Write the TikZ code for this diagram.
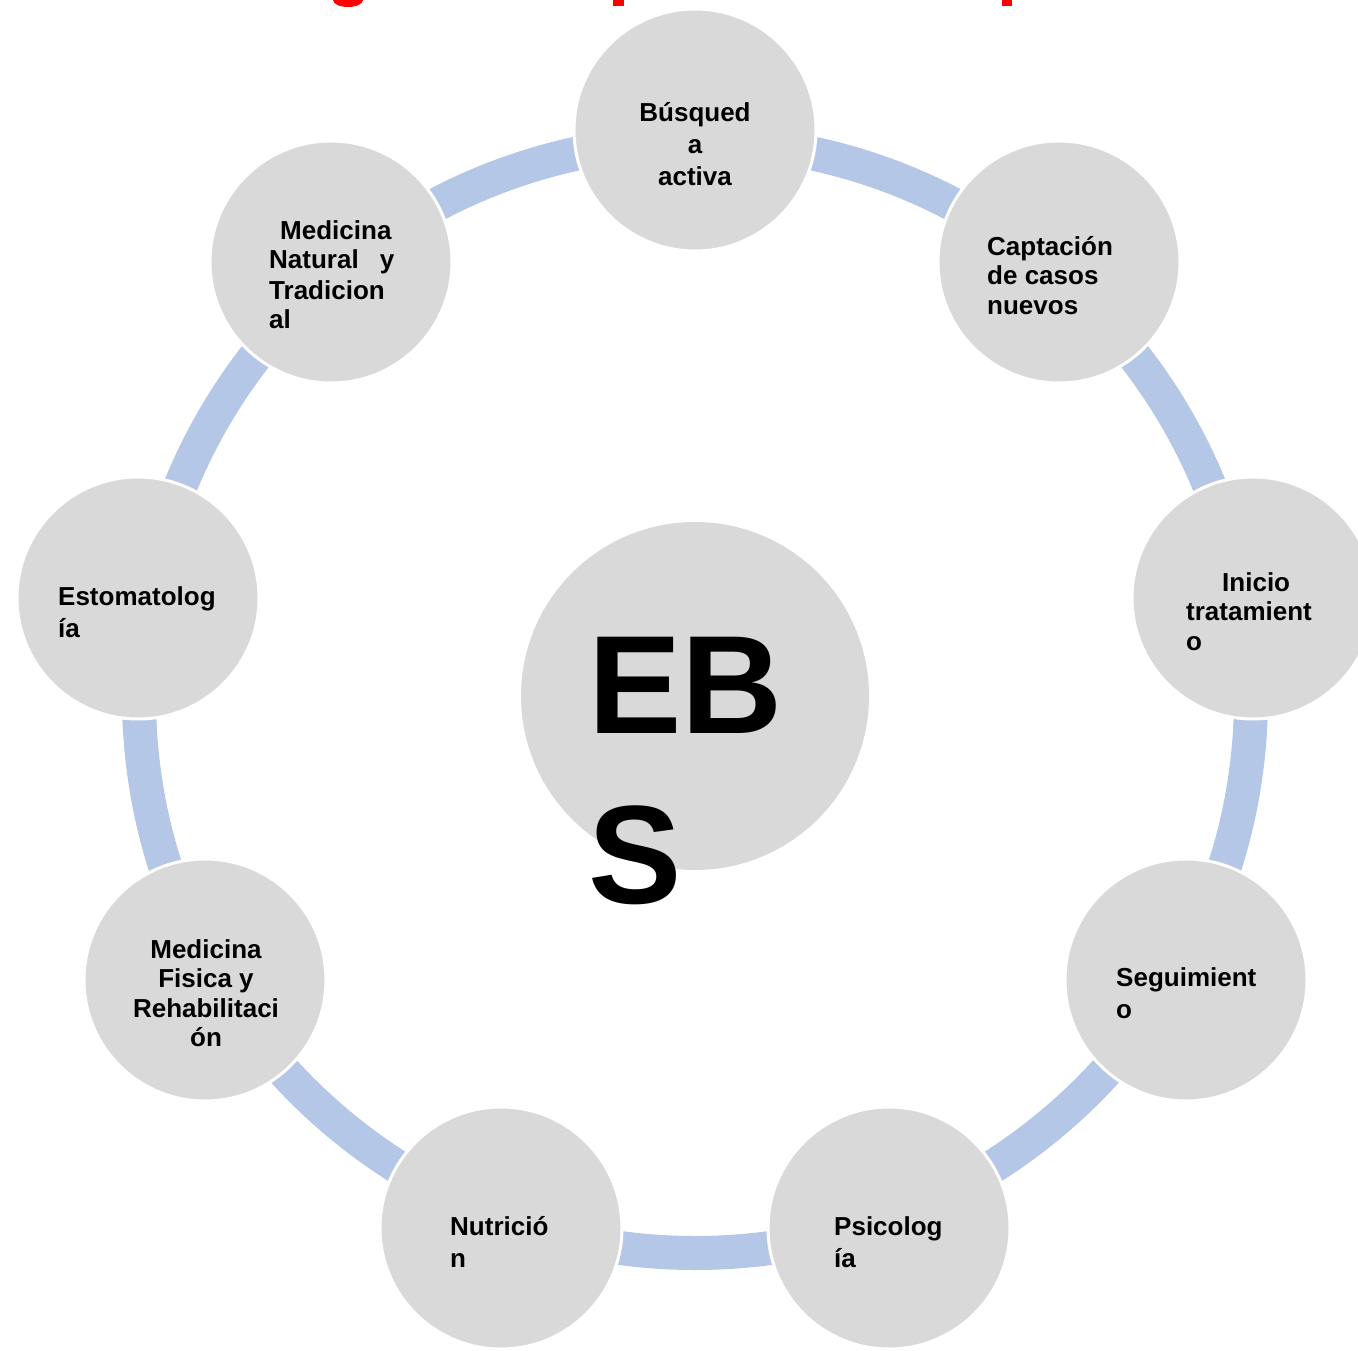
\documentclass[tikz,border=0pt]{standalone}
\usepackage{fontspec}
\setmainfont{Liberation Sans}
\definecolor{ringblue}{HTML}{B4C7E7}
\definecolor{bubble}{HTML}{D9D9D9}
\definecolor{titlered}{HTML}{FF0000}
\tikzset{
  bub/.style={circle, fill=bubble, draw=white, line width=3pt, minimum size=242pt, inner sep=0pt},
  lbl/.style={inner sep=0pt, font=\fontsize{26}{30}\selectfont\bfseries, anchor=base west},
  lblc/.style={lbl, anchor=base},
}
\begin{document}
\begin{tikzpicture}[x=1pt,y=-1pt]
\useasboundingbox (0,0) rectangle (1358,1351);
\clip (0,0) rectangle (1358,1351);
% title fragments (cut off at top)
\fill[titlered] (333,0) arc[start angle=180,end angle=0,x radius=15,y radius=7] -- cycle;
\fill[titlered] (613,0) rectangle (624,6);
\fill[titlered] (1002,0) rectangle (1012,6);
% ring
\coordinate (rc) at (695,697);
\draw[ringblue, line width=34pt] (rc) circle[radius=556];
% bubbles
\node[bub] (n1) at (695,130) {};
\node[bub] (n2) at (1059,262) {};
\node[bub] (n3) at (1253,598) {};
\node[bub] (n4) at (1186,980) {};
\node[bub] (n5) at (889,1228) {};
\node[bub] (n6) at (501,1228) {};
\node[bub] (n7) at (205,980) {};
\node[bub] (n8) at (138,598) {};
\node[bub] (n9) at (331,262) {};
\node[circle, fill=bubble, minimum size=348pt, inner sep=0pt] (ebs) at (695,696) {};
% labels
\node[lblc] (t1a) at (695,122) {Búsqued};
\node[lblc] (t1b) at (695,154) {a};
\node[lblc] (t1c) at (695,186) {activa};
\node[lbl] (t2a) at (987,255) {Captación};
\node[lbl] (t2b) at (987,284) {de casos};
\node[lbl] (t2c) at (987,314) {nuevos};
\node[lbl] (t3a) at (1222,591) {Inicio};
\node[lbl] (t3b) at (1186,620) {tratamient};
\node[lbl] (t3c) at (1186,650) {o};
\node[lbl] (t4a) at (1116,986) {Seguimient};
\node[lbl] (t4b) at (1116,1018) {o};
\node[lbl] (t5a) at (834,1235) {Psicolog};
\node[lbl] (t5b) at (834,1267) {ía};
\node[lbl] (t6a) at (450,1235) {Nutrició};
\node[lbl] (t6b) at (450,1267) {n};
\node[lblc] (t7a) at (206,958) {Medicina};
\node[lblc] (t7b) at (206,987) {Fisica y};
\node[lblc] (t7c) at (206,1017) {Rehabilitaci};
\node[lblc] (t7d) at (206,1046) {ón};
\node[lbl] (t8a) at (58,605) {Estomatolog};
\node[lbl] (t8b) at (58,637) {ía};
\node[lbl] (t9a) at (280,240) {Medicina};
\node[lbl] (t9b) at (269,269) {Natural\hspace{21pt}y};
\node[lbl] (t9c) at (269,299) {Tradicion};
\node[lbl] (t9d) at (269,328) {al};
\node[inner sep=0pt, font=\fontsize{140}{172}\selectfont\bfseries, anchor=base west] (ebsa) at (588,733) {EB};
\node[inner sep=0pt, font=\fontsize{140}{172}\selectfont\bfseries, anchor=base west] (ebsb) at (588,903) {S};
\end{tikzpicture}
\end{document}
